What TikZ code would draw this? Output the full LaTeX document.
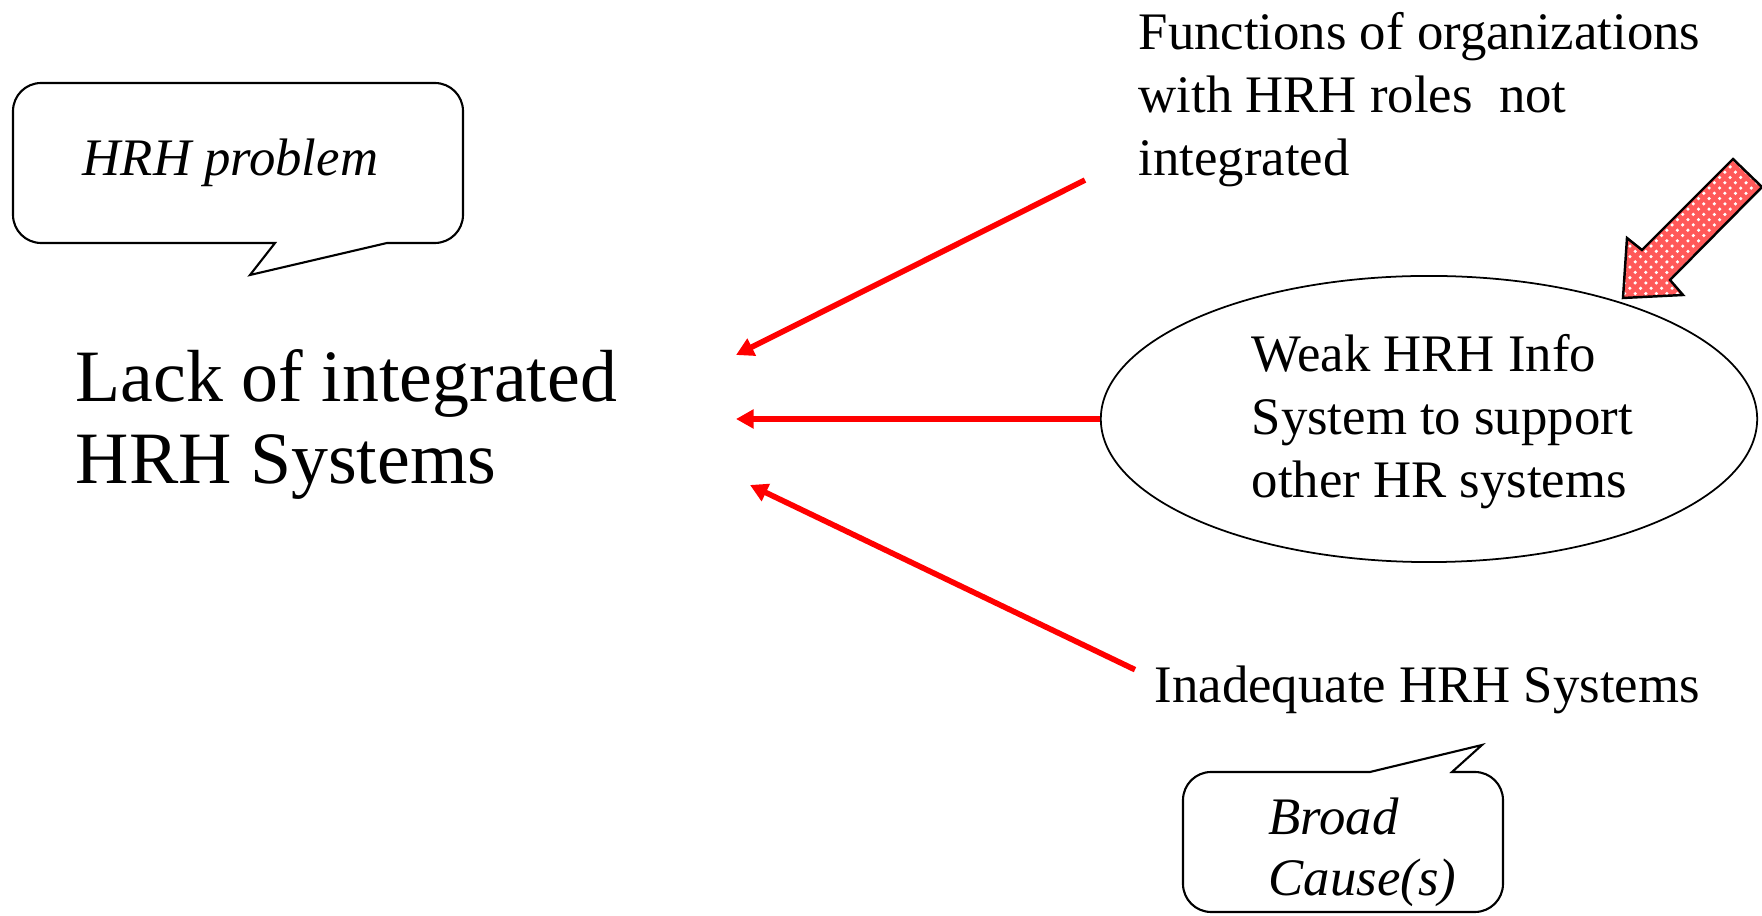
\documentclass[tikz,border=0pt]{standalone}
\usepackage{fontspec}
\setmainfont{Liberation Serif}
\usetikzlibrary{arrows.meta}
\usetikzlibrary{patterns}
\usetikzlibrary{shapes.geometric}

\begin{document}
\begin{tikzpicture}[x=0.01cm,y=-0.01cm,
	causetxt/.style={inner sep=0, align=left, font=\fontsize{15}{18}\selectfont},
	bigtxt/.style={inner sep=0, align=left, font=\fontsize{21}{23.5}\selectfont},
	cause/.style={draw=red, line width=1.6pt, -{Triangle[length=5pt,width=5.2pt]}},
	callout/.style={draw=black, line width=0.6pt, fill=white},
	fatarrow/.style={draw=black, line width=0.7pt, preaction={fill=red!65!white}, pattern=crosshatch dots, pattern color=white}]

	\useasboundingbox (0,0) rectangle (1762,916);

	%Callouts
	\draw[callout] (250,275) -- (275,243) [rounded corners=8pt] -- (13,243) -- (13,83) -- (463,83) -- (463,243) [sharp corners] -- (387,243) -- cycle;
	\node[causetxt, anchor=base west, font=\fontsize{15}{18}\selectfont\itshape] (hrhproblem) at (82,176) {HRH problem};
	\draw[callout] (1482,745) -- (1452,772) [rounded corners=8pt] -- (1503,772) -- (1503,912) -- (1183,912) -- (1183,772) [sharp corners] -- (1370,772) -- cycle;
	\node[causetxt, anchor=base west, font=\fontsize{15}{17.5}\selectfont\itshape] (broad) at (1268,896) {Broad\\Cause(s)};

	%Problem
	\node[bigtxt, anchor=base west] (lack) at (75,484) {Lack of integrated\\HRH Systems};
	\coordinate (tipA) at (736,355);
	\coordinate (tipB) at (736,419);
	\coordinate (tipC) at (750,485);

	%Causes
	\node[causetxt, anchor=base west] (functions) at (1138,176) {Functions of organizations\\with HRH roles\ \ not\\integrated};
	\node[draw, line width=0.5pt, ellipse, minimum width=6.56cm, minimum height=2.86cm] (weak) at (1429,419) {};
	\node[causetxt, anchor=base west] (weaktxt) at (1251,498) {Weak HRH Info\\System to support\\other HR systems};
	\node[causetxt, anchor=base west] (inadequate) at (1154,703) {Inadequate HRH Systems};

	%Arrows
	\draw[cause] ([shift={(-53,-8)}]functions.south west) -- (tipA);
	\draw[cause] (weak.west) -- (tipB);
	\draw[cause] ([shift={(-19,4)}]inadequate.north west) -- (tipC);

	%Fat arrow
	\draw[fatarrow] (1733,159) -- (1642,250) -- (1627,238) -- (1623,298) -- (1683,295) -- (1670,280) -- (1762,187) -- cycle;

\end{tikzpicture}
\end{document}
